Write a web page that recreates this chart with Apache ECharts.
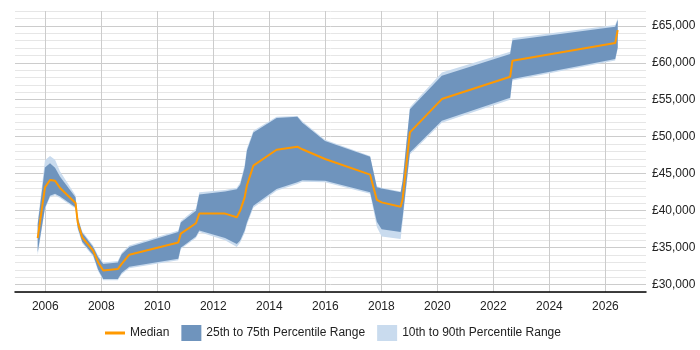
<!DOCTYPE html>
<html>
<head>
<meta charset="utf-8">
<script src="https://cdn.jsdelivr.net/npm/echarts@6/dist/echarts.min.js"></script>
<style>
  html, body { margin: 0; padding: 0; background: #fff; }
  #main { width: 700px; height: 350px; }
</style>
</head>
<body>
<div id="main"></div>
<script>
// decimal years of each point
const years = [2005.73, 2005.99, 2006.17, 2006.35, 2006.53, 2007.08, 2007.16, 2007.32, 2007.71, 2007.89,
  2008.07, 2008.59, 2008.73, 2009.0, 2010.75, 2010.84, 2011.38, 2011.5, 2012.42, 2012.84,
  2012.96, 2013.12, 2013.2, 2013.43, 2014.26, 2015.0, 2015.18, 2015.99, 2017.6, 2017.84,
  2018.01, 2018.69, 2018.76, 2019.02, 2020.16, 2022.6, 2022.68, 2026.35, 2026.44]
const median = [36300, 43150, 44150, 44050, 43070, 41040, 38420, 36400, 34600, 33000,
  31900, 32100, 32800, 34050, 35700, 36900, 38300, 39600, 39600, 39100,
  40000, 41800, 43400, 46080, 48240, 48650, 48300, 46990, 44870, 41450,
  41120, 40540, 41580, 50580, 55090, 58110, 60270, 62660, 64420]
const p25 = [34370, 40400, 42000, 42300, 41900, 40450, 37700, 35800, 34000, 32000,
  30770, 30770, 31600, 32400, 33500, 35000, 36500, 37300, 36300, 35500,
  35950, 37300, 38400, 40680, 42930, 43830, 44100, 44050, 42480, 38500,
  37500, 37100, 39100, 47880, 52160, 55270, 57790, 60500, 62070]
const p75 = [38150, 45850, 46400, 45800, 44600, 41800, 39000, 37000, 35100, 33700,
  32800, 33000, 34100, 35100, 37100, 38400, 40000, 42200, 42600, 42900,
  43500, 45800, 48100, 50580, 52530, 52700, 51900, 49430, 47300, 43150,
  43000, 42500, 44000, 53700, 58240, 61170, 63060, 64870, 65770]
const p10 = [34000, 40200, 41800, 42100, 41700, 40300, 37500, 35600, 33800, 31800,
  30600, 30600, 31400, 32200, 33300, 34800, 36300, 37100, 36000, 35100,
  35700, 37000, 38100, 40400, 42700, 43600, 43900, 43850, 42300, 37800,
  36500, 36170, 38500, 47600, 51900, 55000, 57600, 60300, 61900]
const p90 = [38400, 46800, 47400, 46900, 45300, 42100, 39200, 37200, 35300, 33900,
  33000, 33200, 34300, 35300, 37300, 38600, 40300, 42500, 42800, 43100,
  43800, 46200, 48400, 50800, 52700, 52800, 52100, 49600, 47400, 43300,
  43100, 42600, 44200, 54000, 58700, 61500, 63300, 65100, 66000]

const DARK = '#6f94bd'
const LIGHT = '#c9dbee'
const ORANGE = '#ff9900'

const pairs = vals => years.map((y, i) => [y, vals[i]])

// band between two percentile lines, drawn as one polygon through the axes' scales
function band(name, lower, upper, color, z) {
  return {
    name: name,
    type: 'custom',
    data: pairs(upper).concat(pairs(lower)),
    itemStyle: { color: color },
    silent: true,
    z: z,
    renderItem: (params, api) => {
      if (params.dataIndex !== 0) return
      const pts = []
      years.forEach((y, i) => pts.push(api.coord([y, upper[i]])))
      for (let i = years.length - 1; i >= 0; i--) pts.push(api.coord([years[i], lower[i]]))
      return { type: 'polygon', shape: { points: pts }, style: { fill: color } }
    }
  }
}

const chart = echarts.init(document.getElementById('main'))
chart.setOption({
  animation: false,
  textStyle: { fontFamily: 'Liberation Sans, Arial, sans-serif' },
  grid: { left: 15, right: 54, top: 11, bottom: 58 },
  legend: {
    bottom: 4,
    left: 100,
    itemWidth: 20,
    itemHeight: 16,
    itemGap: 12,
    textStyle: { fontSize: 12, color: '#222' },
    data: [
      { name: 'Median', icon: 'path://M0,6.5 L20,6.5 L20,9.5 L0,9.5 Z' },
      { name: '25th to 75th Percentile Range', icon: 'rect' },
      { name: '10th to 90th Percentile Range', icon: 'rect' }
    ]
  },
  xAxis: {
    type: 'value',
    min: 2004.92,
    max: 2027.45,
    splitNumber: 11,
    minInterval: 2,
    maxInterval: 2,
    axisLine: { lineStyle: { color: '#000', width: 1.5 } },
    axisTick: { show: false },
    axisLabel: {
      color: '#222', fontSize: 12, margin: 9,
      showMinLabel: false, showMaxLabel: false,
      formatter: v => String(v)
    },
    splitLine: { show: true, showMinLine: false, showMaxLine: false, lineStyle: { color: '#cccccc' } }
  },
  yAxis: {
    type: 'value',
    position: 'right',
    min: 29000,
    max: 67000,
    interval: 1000,
    axisLine: { show: false },
    axisTick: { show: false },
    axisLabel: {
      color: '#222',
      fontSize: 12,
      margin: 6,
      formatter: v => (v % 5000 === 0 ? '£' + v.toLocaleString('en-GB') : '')
    },
    splitLine: {
      lineStyle: { color: ['#e6e6e6', '#cccccc', '#e6e6e6', '#e6e6e6', '#e6e6e6'] }
    }
  },
  series: [
    band('10th to 90th Percentile Range', p10, p90, LIGHT, 1),
    band('25th to 75th Percentile Range', p25, p75, DARK, 2),
    {
      name: 'Median', type: 'line', data: pairs(median),
      symbol: 'none', itemStyle: { color: ORANGE },
      lineStyle: { color: ORANGE, width: 2 }, z: 5
    }
  ]
})
</script>
</body>
</html>
